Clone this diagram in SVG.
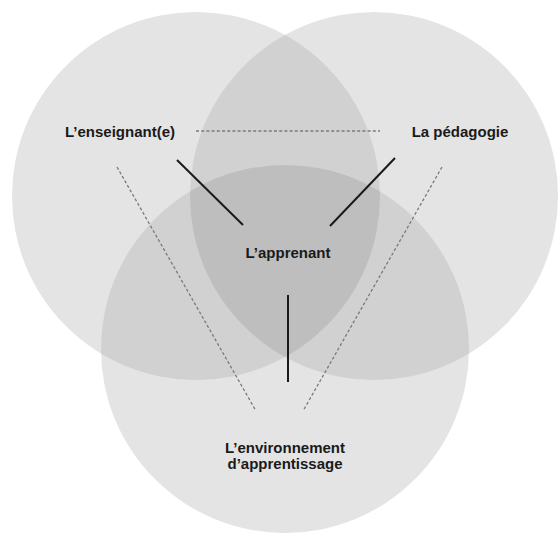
<svg xmlns="http://www.w3.org/2000/svg" width="559" height="533" viewBox="0 0 559 533">
<style>
.c1{fill:#e4e4e4}
.c2{fill:#d1d1d1}
.c3{fill:#bebebe}
.lbl{font-family:"Liberation Sans",Arial,sans-serif;font-weight:bold;font-size:15px;fill:#1a1a1a;text-anchor:middle}
.solid{stroke:#1a1a1a;stroke-width:2;fill:none}
.dash{stroke:#7a7a7a;stroke-width:1.3;stroke-dasharray:3 2.2;fill:none}
</style>
<defs>
<clipPath id="cpA"><circle cx="196" cy="196" r="184"/></clipPath>
<clipPath id="cpB"><circle cx="374" cy="196" r="184"/></clipPath>
<clipPath id="cpC"><circle cx="285" cy="349" r="184"/></clipPath>
</defs>
<g id="circles">
<circle class="c1" cx="196" cy="196" r="184"/>
<circle class="c1" cx="374" cy="196" r="184"/>
<circle class="c1" cx="285" cy="349" r="184"/>
<g clip-path="url(#cpA)"><circle class="c2" cx="374" cy="196" r="184"/><circle class="c2" cx="285" cy="349" r="184"/></g>
<g clip-path="url(#cpB)"><circle class="c2" cx="285" cy="349" r="184"/></g>
<g clip-path="url(#cpA)"><g clip-path="url(#cpB)"><circle class="c3" cx="285" cy="349" r="184"/></g></g>
</g>
<g id="connectors">
<line class="dash" x1="196" y1="131" x2="380" y2="131"/>
<line class="dash" x1="117" y1="167" x2="256" y2="411"/>
<line class="dash" x1="442" y1="167" x2="303" y2="411"/>
<line class="solid" x1="177" y1="160" x2="243" y2="225"/>
<line class="solid" x1="395" y1="158" x2="330" y2="226"/>
<line class="solid" x1="288" y1="295" x2="288" y2="382"/>
</g>
<g id="node-enseignant"><text class="lbl" x="120" y="137">L’enseignant(e)</text></g>
<g id="node-pedagogie"><text class="lbl" x="460" y="137">La pédagogie</text></g>
<g id="node-apprenant"><text class="lbl" x="288" y="258">L’apprenant</text></g>
<g id="node-environnement"><text class="lbl" x="285" y="453">L’environnement</text><text class="lbl" x="285" y="469">d’apprentissage</text></g>
</svg>
